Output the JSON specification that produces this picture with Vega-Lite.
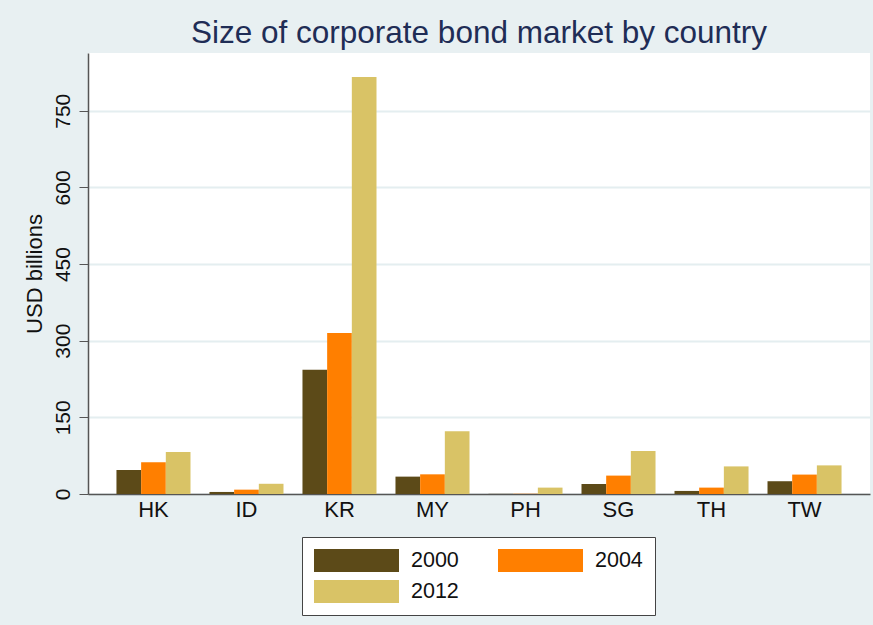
{
  "$schema": "https://vega.github.io/schema/vega-lite/v6.json",
  "width": 782,
  "height": 441,
  "autosize": {"type": "none"},
  "padding": {"left": 88, "top": 53, "right": 3, "bottom": 131},
  "background": "#e8f0f2",
  "title": {
    "text": "Size of corporate bond market by country",
    "font": "Liberation Sans",
    "fontSize": 31.5,
    "fontWeight": "normal",
    "color": "#1f2d56",
    "anchor": "middle",
    "frame": "group",
    "offset": 4
  },
  "config": {
    "view": {"stroke": null, "fill": "white"},
    "font": "Liberation Sans"
  },
  "data": {
    "values": [
      {"country": "HK", "year": "2000", "value": 47},
      {"country": "HK", "year": "2004", "value": 62},
      {"country": "HK", "year": "2012", "value": 82},
      {"country": "ID", "year": "2000", "value": 4},
      {"country": "ID", "year": "2004", "value": 8.5},
      {"country": "ID", "year": "2012", "value": 20},
      {"country": "KR", "year": "2000", "value": 243},
      {"country": "KR", "year": "2004", "value": 315},
      {"country": "KR", "year": "2012", "value": 816},
      {"country": "MY", "year": "2000", "value": 34},
      {"country": "MY", "year": "2004", "value": 38.5},
      {"country": "MY", "year": "2012", "value": 123},
      {"country": "PH", "year": "2000", "value": 0.3},
      {"country": "PH", "year": "2004", "value": 0.5},
      {"country": "PH", "year": "2012", "value": 12.5},
      {"country": "SG", "year": "2000", "value": 19.6},
      {"country": "SG", "year": "2004", "value": 36},
      {"country": "SG", "year": "2012", "value": 84},
      {"country": "TH", "year": "2000", "value": 6},
      {"country": "TH", "year": "2004", "value": 12.5},
      {"country": "TH", "year": "2012", "value": 54},
      {"country": "TW", "year": "2000", "value": 25},
      {"country": "TW", "year": "2004", "value": 38},
      {"country": "TW", "year": "2012", "value": 56}
    ]
  },
  "mark": {"type": "bar"},
  "encoding": {
    "x": {
      "field": "country",
      "type": "nominal",
      "sort": ["HK", "ID", "KR", "MY", "PH", "SG", "TH", "TW"],
      "scale": {"paddingInner": 0.204, "paddingOuter": 0.306},
      "axis": {
        "title": null,
        "labelAngle": 0,
        "labelFontSize": 22,
        "labelColor": "#111",
        "labelPadding": 5,
        "ticks": false,
        "domainColor": "#555",
        "domainWidth": 1.5,
        "grid": false
      }
    },
    "xOffset": {
      "field": "year",
      "type": "nominal",
      "sort": ["2000", "2004", "2012"],
      "scale": {"paddingInner": 0, "paddingOuter": 0}
    },
    "y": {
      "field": "value",
      "type": "quantitative",
      "scale": {"domain": [0, 863], "nice": false},
      "axis": {
        "title": "USD billions",
        "titleFontSize": 22,
        "titleFontWeight": "normal",
        "titleColor": "#111",
        "titlePadding": 6,
        "values": [0, 150, 300, 450, 600, 750],
        "labelAngle": -90,
        "labelFontSize": 21,
        "labelColor": "#111",
        "labelPadding": 6,
        "tickSize": 9,
        "tickColor": "#555",
        "domainColor": "#555",
        "domainWidth": 1.5,
        "gridColor": "#e4eef0",
        "gridWidth": 2
      }
    },
    "color": {
      "field": "year",
      "type": "nominal",
      "scale": {
        "domain": ["2000", "2004", "2012"],
        "range": ["#5c4a18", "#ff7f00", "#d9c366"]
      },
      "legend": {
        "title": null,
        "orient": "none",
        "legendX": 214,
        "legendY": 484,
        "direction": "horizontal",
        "columns": 2,
        "columnPadding": 39,
        "rowPadding": 8,
        "symbolType": "M-1,-1H6.391V1H-1Z",
        "symbolSize": 529,
        "symbolStrokeWidth": 0,
        "symbolOpacity": 1,
        "labelOffset": 74,
        "labelFontSize": 21.5,
        "labelColor": "#111",
        "fillColor": "white",
        "strokeColor": "#444",
        "padding": 12
      }
    }
  }
}
